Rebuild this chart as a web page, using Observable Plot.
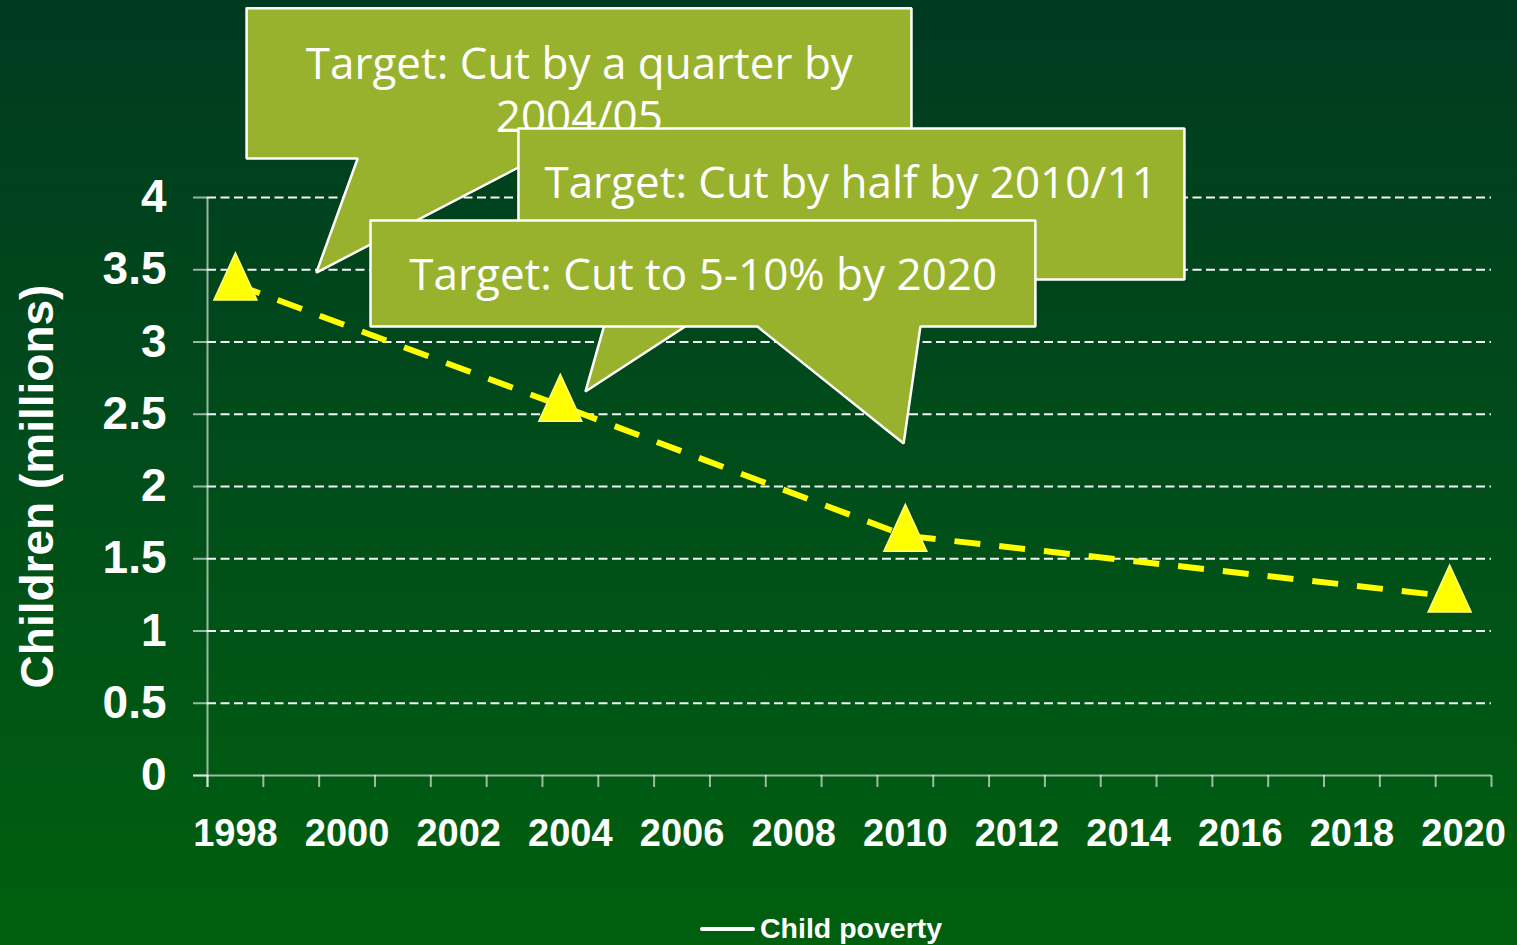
<!DOCTYPE html>
<html>
<head>
<meta charset="utf-8">
<script src="https://cdn.jsdelivr.net/npm/d3@7"></script>
<script src="https://cdn.jsdelivr.net/npm/@observablehq/plot@0.6"></script>
<style>
  html, body { margin: 0; padding: 0; width: 1517px; height: 945px; overflow: hidden; }
  body { background: linear-gradient(#003a20 0%, #004d1a 50%, #00600e 100%); position: relative; }
  #chart svg { display: block; background: transparent; }
  #legend { position: absolute; left: 700px; top: 912px; display: flex; align-items: center;
    font-family: "Liberation Sans", Arial, sans-serif; font-weight: bold; font-size: 28.5px; color: #fff; }
  #legend .sw { width: 55px; height: 4px; background: #fff; border-radius: 2px; margin-right: 5px; }
</style>
</head>
<body>
<div id="chart"></div>
<div id="legend"><span class="sw"></span><span>Child poverty</span></div>
<script>
// ---- data ----
const years = [1998, 2004, 2010, 2020];
// horizontal position of each point on the year axis
const yearPositions = [1998.0, 2003.82, 2010.0, 2019.75];
const childPoverty = [3.4, 2.56, 1.66, 1.24];
const yTicks = [0, 0.5, 1, 1.5, 2, 2.5, 3, 3.5, 4];
const yTickLabels = ["0", "0.5", "1", "1.5", "2", "2.5", "3", "3.5", "4"];
const xLabelYears = [1998, 2000, 2002, 2004, 2006, 2008, 2010, 2012, 2014, 2016, 2018, 2020];
const seriesName = "Child poverty";
const yTitle = "Children (millions)";

// callouts (in data units: year, millions)
const callout1Shape = [[1998.2, 5.31], [2010.11, 5.31], [2010.11, 4.27], [2003.38, 4.27], [1999.45, 3.48], [2000.19, 4.27], [1998.2, 4.27], [1998.2, 5.31]];
const callout1Text = [{x: 2004.16, y: 4.92, t: "Target: Cut by a quarter by"}, {x: 2004.16, y: 4.554, t: "2004/05"}];
const callout2Shape = [[2003.07, 4.478], [2015.0, 4.478], [2015.0, 3.433], [2007.35, 3.433], [2004.27, 2.657], [2004.84, 3.433], [2003.07, 3.433], [2003.07, 4.478]];
const callout2Text = [{x: 2009.02, y: 4.093, t: "Target: Cut by half by 2010/11"}];
const callout3Shape = [[2000.42, 3.841], [2012.33, 3.841], [2012.33, 3.107], [2010.27, 3.107], [2009.97, 2.298], [2007.35, 3.107], [2000.42, 3.107], [2000.42, 3.841]];
const callout3Text = [{x: 2006.38, y: 3.46, t: "Target: Cut to 5-10% by 2020"}];

// ---- build ----
const series = years.map((yr, i) => ({year: yr, pos: yearPositions[i], value: childPoverty[i], name: seriesName}));
const xBoundaries = d3.range(years[0] - 0.5, years[years.length - 1] + 1, 1);
const gridTicks = yTicks.filter(v => v !== 0);

const tri = {
  draw(ctx, size) {
    const r = Math.sqrt(size / Math.PI);
    ctx.moveTo(0, -1.333 * r);
    ctx.lineTo(0.915 * r, 0.667 * r);
    ctx.lineTo(-0.915 * r, 0.667 * r);
    ctx.closePath();
  }
};

const calloutFill = "#99b22e";
const calloutFont = "'Open Sans', 'Noto Sans', sans-serif";
const axisFont = "'Liberation Sans', Arial, sans-serif";
const axisColor = "rgba(255,255,255,0.6)";

function calloutMarks(shape, texts) {
  return [
    Plot.line(shape, {x: d => d[0], y: d => d[1], fill: calloutFill, stroke: "white", strokeWidth: 2.5, strokeLinejoin: "miter"}),
    Plot.text(texts, {x: "x", y: "y", text: "t", fill: "white", fontSize: 44, fontFamily: calloutFont, fontWeight: 400})
  ];
}

const plot = Plot.plot({
  width: 1517,
  height: 900,
  marginLeft: 207,
  marginRight: 26,
  marginTop: 197,
  marginBottom: 125,
  style: {background: "transparent", overflow: "visible"},
  x: {domain: [xBoundaries[0], xBoundaries[xBoundaries.length - 1]], axis: null},
  y: {domain: [0, 4], axis: null},
  marks: [
    // gridlines
    Plot.ruleY(gridTicks, {stroke: "white", strokeWidth: 2, strokeDasharray: "9,4.5", strokeOpacity: 0.95}),
    // y axis line (extends below x-axis by tick length)
    Plot.ruleX([xBoundaries[0]], {y1: 4, y2: 0, stroke: axisColor, strokeWidth: 2, insetBottom: -12}),
    // x axis line
    Plot.ruleY([0], {x1: xBoundaries[0], x2: xBoundaries[xBoundaries.length - 1], stroke: axisColor, strokeWidth: 2, insetLeft: -14}),
    // y ticks + labels
    Plot.axisY(yTicks, {tickSize: 14, tickPadding: 27, stroke: axisColor, strokeWidth: 2, fill: "white",
      tickFormat: (d, i) => yTickLabels[i], fontSize: 46, fontWeight: "bold", fontFamily: axisFont, label: null}),
    // x ticks (at year boundaries)
    Plot.axisX(xBoundaries, {tickSize: 12, tickFormat: () => "", stroke: axisColor, strokeWidth: 2, label: null}),
    // x labels
    Plot.text(xLabelYears, {x: d => d, frameAnchor: "bottom", dy: 70, text: d => String(d), fill: "white",
      fontSize: 38, fontWeight: "bold", fontFamily: axisFont}),
    // y title
    Plot.text([yTitle], {frameAnchor: "left", textAnchor: "middle", dx: -169, rotate: -90, text: d => d, fill: "white",
      fontSize: 46, fontWeight: "bold", fontFamily: axisFont}),
    // series
    Plot.line(series, {x: "pos", y: "value", stroke: "#ffff00", strokeWidth: 6, strokeDasharray: "26,19", strokeLinecap: "butt"}),
    Plot.dot(series, {x: "pos", y: "value", symbol: tri, r: 23.5, fill: "#ffff00", stroke: "#ffff88", strokeWidth: 1.5}),
    // callouts
    ...calloutMarks(callout1Shape, callout1Text),
    ...calloutMarks(callout2Shape, callout2Text),
    ...calloutMarks(callout3Shape, callout3Text)
  ]
});
document.getElementById("chart").appendChild(plot);
</script>
</body>
</html>
